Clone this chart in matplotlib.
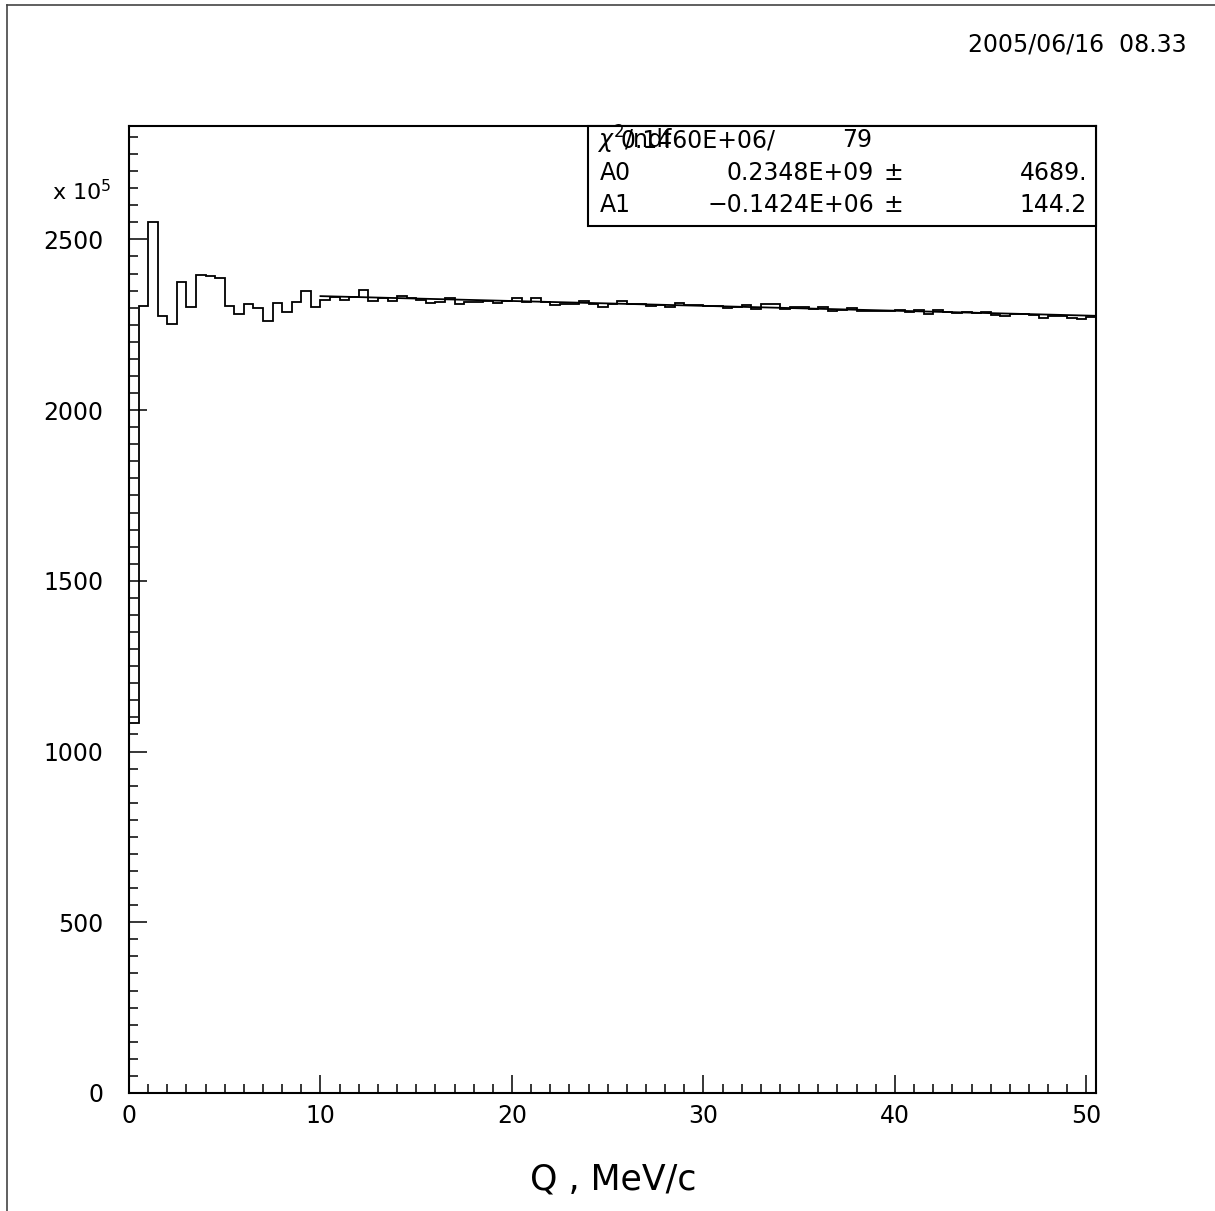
import numpy as np
import matplotlib
matplotlib.use("Agg")
import matplotlib.pyplot as plt
from matplotlib.patches import Rectangle
from matplotlib.lines import Line2D
from matplotlib.ticker import MultipleLocator

W, H = 1215, 1211

# histogram contents (units of 1e5), 0.5 MeV/c bins starting at 0
bin_start = 0.0
bin_width = 0.5
counts = [
    1084, 2306, 2550, 2277, 2251, 2376, 2303, 2396, 2394, 2386,
    2306, 2281, 2311, 2300, 2260, 2315, 2286, 2318, 2348, 2301,
    2322, 2331, 2323, 2331, 2353, 2320, 2328, 2319, 2335, 2329,
    2321, 2313, 2318, 2327, 2310, 2318, 2317, 2319, 2314, 2320,
    2328, 2318, 2329, 2318, 2309, 2312, 2311, 2319, 2312, 2302,
    2310, 2319, 2310, 2310, 2305, 2308, 2302, 2313, 2308, 2309,
    2305, 2305, 2299, 2302, 2309, 2297, 2312, 2312, 2295, 2303,
    2303, 2295, 2302, 2290, 2292, 2299, 2289, 2291, 2291, 2289,
    2293, 2286, 2294, 2282, 2292, 2286, 2285, 2288, 2284, 2287,
    2279, 2276, 2280, 2281, 2278, 2271, 2277, 2275, 2271, 2267,
    2274,
]

# linear fit, as printed in the stats box (A0, A1 in raw units)
A0, A0_err = 0.2348e9, 4689.
A1, A1_err = -0.1424e6, 144.2
chi2, ndf = 0.1460e6, 79
fit_x = np.array([10.0, 50.5])
scale = 1e5

date_str = "2005/06/16  08.33"
xlabel = "Q , MeV/c"


def fx(px):
    return px / W


def fy(py):
    return 1 - py / H


fig = plt.figure(figsize=(W / 100, H / 100), dpi=100)
plt.rcParams['font.family'] = ['DejaVu Sans']
plt.rcParams['mathtext.fontset'] = 'dejavusans'

ax = fig.add_axes([fx(129), fy(1093), fx(1096) - fx(129), fy(126) - fy(1093)])

edges = bin_start + bin_width * np.arange(len(counts) + 1)
ax.stairs(counts, edges, color='black', lw=1.3, baseline=0, zorder=3)
ax.plot(fit_x, (A0 + A1 * fit_x) / scale, color='black', lw=1.3, zorder=4)

ax.set_xlim(0, 50.5)
ax.set_ylim(0, 2832)

ax.xaxis.set_major_locator(MultipleLocator(10))
ax.xaxis.set_minor_locator(MultipleLocator(1))
ax.yaxis.set_major_locator(MultipleLocator(500))
ax.yaxis.set_minor_locator(MultipleLocator(50))
ax.tick_params(which='both', direction='in', top=False, right=False, width=1.1, colors='black')
ax.tick_params(which='major', length=13, labelsize=17)
ax.tick_params(axis='y', which='major', pad=18.5)
ax.tick_params(axis='x', which='major', pad=8)
ax.tick_params(which='minor', length=6.5)
for s in ax.spines.values():
    s.set_linewidth(1.5)

# stats box
x0 = (588 - 129) / 967
h = 100 / 967
ax.add_patch(Rectangle((x0, 1 - h), 1 - x0, h, transform=ax.transAxes,
                       fc='white', ec='black', lw=1.5, zorder=6, clip_on=False))

# the chi2/ndf label and its value overlap in the original, kept that way
st = dict(fontsize=17, va='center', zorder=7)
fig.text(fx(597), fy(140), r"$\chi^2$/ndf", ha='left', **st)
fig.text(fx(620), fy(140), "0.1460E+06/", ha='left', **st)
fig.text(fx(872), fy(140), "%d" % ndf, ha='right', **st)
fig.text(fx(600), fy(173), "A0", ha='left', **st)
fig.text(fx(874), fy(173), "0.2348E+09", ha='right', **st)
fig.text(fx(884), fy(173), "\u00b1", ha='left', **st)
fig.text(fx(1087), fy(173), "4689.", ha='right', **st)
fig.text(fx(600), fy(205), "A1", ha='left', **st)
fig.text(fx(874), fy(205), "\u22120.1424E+06", ha='right', **st)
fig.text(fx(884), fy(205), "\u00b1", ha='left', **st)
fig.text(fx(1087), fy(205), "144.2", ha='right', **st)

# exponent label, date, axis title
fig.text(fx(52), fy(200), r"x 10$^{5}$", ha='left', va='baseline', fontsize=16)
fig.text(fx(1187), fy(45), date_str, ha='right', va='center', fontsize=17)
fig.text(fx(613), fy(1179), xlabel, ha='center', va='center', fontsize=25)

# page frame (top and left edges)
fig.add_artist(Line2D([fx(7), 1], [fy(5), fy(5)], color='#444444', lw=1.2))
fig.add_artist(Line2D([fx(7), fx(7)], [fy(5), 0], color='#444444', lw=1.2))

fig.savefig("out.png", dpi=100, facecolor='white')
